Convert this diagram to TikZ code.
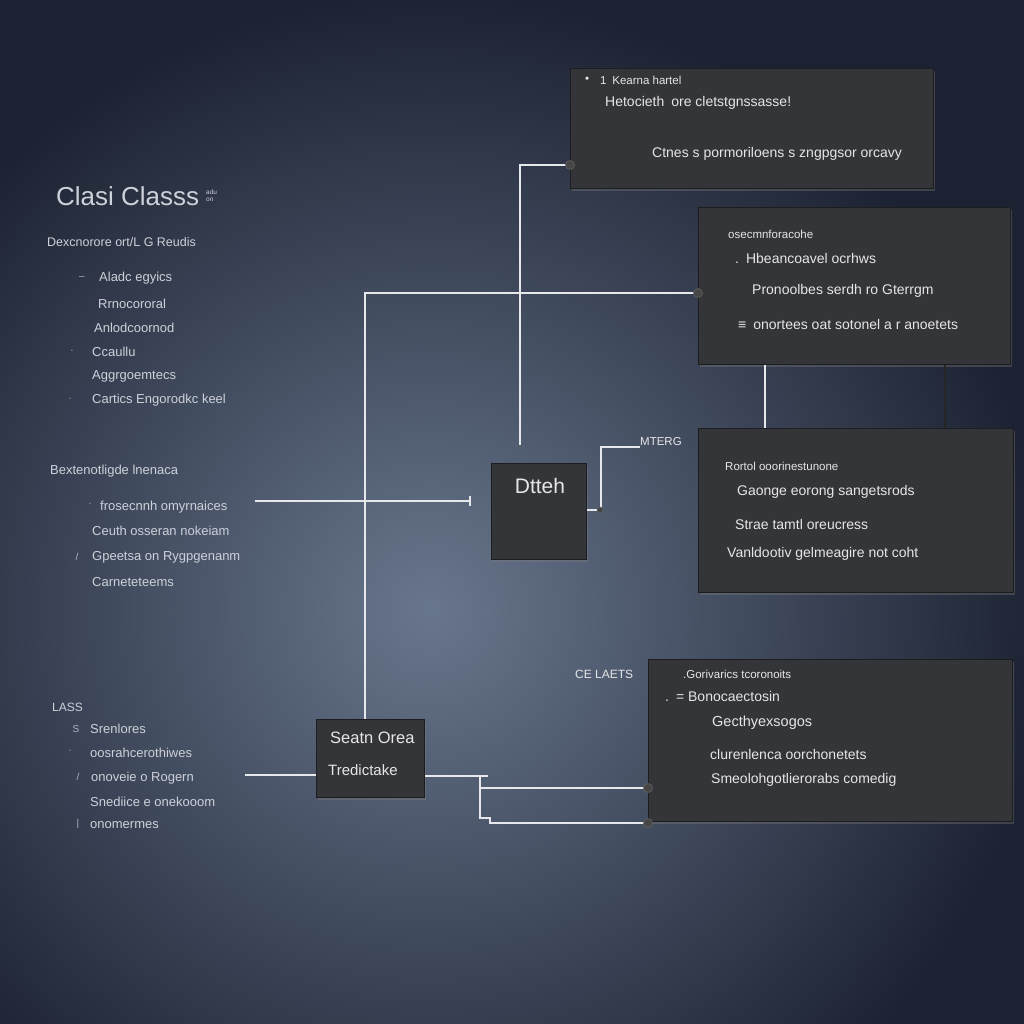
\documentclass[tikz,border=0pt]{standalone}
\usepackage{fontspec}
\setmainfont{Liberation Sans}
\usetikzlibrary{shadows}
\definecolor{bgout}{HTML}{1C2231}
\definecolor{bgin}{HTML}{68768D}
\definecolor{boxc}{HTML}{343538}
\definecolor{txtc}{HTML}{E6E6E6}
\definecolor{ltxt}{HTML}{CDD1D9}
\definecolor{wirec}{HTML}{E6E8EC}
\tikzset{
 panel/.style={fill=boxc, draw=black!45!boxc, line width=0.6pt, anchor=north west, inner sep=0pt,
   drop shadow={opacity=0.35, shadow xshift=2pt, shadow yshift=-3pt}},
 bt/.style={anchor=west, text=txtc, inner sep=0pt, font=\fontsize{14}{16}\selectfont},
 bs/.style={bt, font=\fontsize{11.5}{13}\selectfont},
 lt/.style={anchor=west, text=ltxt, inner sep=0pt, font=\fontsize{13}{15}\selectfont},
 mk/.style={anchor=center, text=ltxt!70!bgin, inner sep=0pt, font=\fontsize{10}{11}\selectfont},
 wire/.style={draw=wirec, line width=1.8pt},
 dwire/.style={draw=black!85, line width=1.8pt},
 knob/.style={circle, fill=gray!55!black, draw=black!60, line width=0.5pt, minimum size=9pt, inner sep=0pt},
}
\begin{document}
\begin{tikzpicture}[x=1pt,y=-1pt]
\useasboundingbox (0,0) rectangle (1024,1024);
\fill[bgout] (0,0) rectangle (1024,1024);
\begin{scope}
\clip (0,0) rectangle (1024,1024);
\shade[inner color=bgin, outer color=bgout] (430,610) circle (620);
\end{scope}

% ---------- panels ----------
\node[panel, minimum width=363pt, minimum height=120pt] (A) at (570,68) {};
\node[panel, minimum width=312pt, minimum height=157pt] (B) at (698,207) {};
\node[panel, minimum width=315pt, minimum height=164pt] (C) at (698,428) {};
\node[panel, minimum width=95pt, minimum height=96pt] (D) at (491,463) {};
\node[panel, minimum width=108pt, minimum height=78pt] (E) at (316,719) {};
\node[panel, minimum width=364pt, minimum height=162pt] (F) at (648,659) {};

% ---------- panel texts ----------
\node[bs] (a0) at (585,80) {•};
\node[bs] (a1) at (600,80) {1\enspace Kearna hartel};
\node[bt] (a2) at (605,103) {Hetocieth\enspace ore cletstgnssasse!};
\node[bt] (a3) at (652,154) {Ctnes s pormoriloens s zngpgsor orcavy};

\node[bs] (b1) at (728,234) {osecmnforacohe};
\node[bt] (b2) at (735,258) {.\enspace Hbeancoavel ocrhws};
\node[bt] (b3) at (752,291) {Pronoolbes serdh ro Gterrgm};
\node[bt] (b4) at (738,324) {≡\enspace onortees oat sotonel a r anoetets};

\node[bs] (c1) at (725,466) {Rortol ooorinestunone};
\node[bt] (c2) at (737,492) {Gaonge eorong sangetsrods};
\node[bt] (c3) at (735,524) {Strae tamtl oreucress};
\node[bt] (c4) at (727,554) {Vanldootiv gelmeagire not coht};

\node[text=txtc, inner sep=0pt, font=\fontsize{21}{24}\selectfont] (dt) at (540,486) {Dtteh};

\node[bt, font=\fontsize{16.5}{18}\selectfont] (e1) at (330,738) {Seatn Orea};
\node[bt, font=\fontsize{15}{17}\selectfont] (e2) at (328,770) {Tredictake};

\node[bs] (f1) at (683,674) {.Gorivarics tcoronoits};
\node[bt] (f2) at (665,696) {.\enspace = Bonocaectosin};
\node[bt, font=\fontsize{14.5}{16}\selectfont] (f3) at (712,723) {Gecthyexsogos};
\node[bt] (f4) at (710,754) {clurenlenca oorchonetets};
\node[bt] (f5) at (711,780) {Smeolohgotlierorabs comedig};

% ---------- free labels ----------
\node[bt, font=\fontsize{11.5}{13}\selectfont] (mt) at (640,442) {MTERG};
\node[bt, font=\fontsize{12}{14}\selectfont] (cl) at (575,674) {CE LAETS};

% ---------- left texts ----------
\node[lt, font=\fontsize{26}{28}\selectfont] (title) at (56,196) {Clasi Classs};
\node[lt, font=\fontsize{6.5}{7}\selectfont, align=left] (tsup) at (206,196) {adu\\on};
\node[lt, font=\fontsize{12.5}{14}\selectfont] (l0) at (47,242) {Dexcnorore ort/L G Reudis};
\node[mk] (m1) at (82,278) {–};
\node[lt] (l1) at (99,278) {Aladc egyics};
\node[lt] (l2) at (98,304) {Rrnocororal};
\node[lt] (l3) at (94,328) {Anlodcoornod};
\node[mk] (m2) at (72,352) {·};
\node[lt] (l4) at (92,352) {Ccaullu};
\node[lt] (l5) at (92,376) {Aggrgoemtecs};
\node[mk] (m3) at (70,400) {·};
\node[lt] (l6) at (92,400) {Cartics Engorodkc keel};

\node[lt] (s0) at (50,471) {Bextenotligde lnenaca};
\node[mk] (m4) at (90,505) {·};
\node[lt] (s1) at (100,507) {frosecnnh omyrnaices};
\node[lt] (s2) at (92,531) {Ceuth osseran nokeiam};
\node[mk] (m5) at (77,557) {/};
\node[lt] (s3) at (92,557) {Gpeetsa on Rygpgenanm};
\node[lt] (s4) at (92,582) {Carneteteems};

\node[lt, font=\fontsize{12}{14}\selectfont] (u0) at (52,707) {LASS};
\node[mk] (m6) at (76,729) {S};
\node[lt] (u1) at (90,729) {Srenlores};
\node[mk] (m7) at (70,752) {·};
\node[lt] (u2) at (90,753) {oosrahcerothiwes};
\node[mk] (m8) at (78,777) {/};
\node[lt] (u3) at (91,778) {onoveie o Rogern};
\node[lt] (u4) at (90,802) {Snediice e onekooom};
\node[mk] (m9) at (78,824) {|};
\node[lt] (u5) at (90,825) {onomermes};

% ---------- connectors ----------
\coordinate (aEnd) at (520,445);
\draw[wire] (A.west |- 0,165) -| (aEnd);
\draw[wire] (B.west |- 0,293) -| (E.north -| 365,0);
\coordinate (hl) at (255,501);
\coordinate (hr) at (470,501);
\draw[wire] (hl) -- (hr);
\draw[wire, line width=1.2pt] (hr) ++(0,-5) -- ++(0,10);
\draw[wire] (D.east |- 0,510) -- ++(14,0) |- (mt.west |- 0,447);
\draw[wire] (B.south -| 765,0) -- (C.north -| 765,0);
\draw[dwire] (B.south -| 945,0) -- (C.north -| 945,0);
\coordinate (eL) at (245,775);
\draw[wire] (E.west |- 0,775) -- (eL);
\coordinate (eR) at (488,776);
\draw[wire] (E.east |- 0,776) -- (eR);
\coordinate (br) at (480,776);
\draw[wire] (br) -- ++(0,42) -- ++(10,0) -- ++(0,5) -- (F.west |- 0,823);
\draw[wire] (br) ++(0,12) -- (F.west |- 0,788);

% ---------- knobs ----------
\node[knob] (k1) at (A.west |- 0,165) {};
\node[knob] (k2) at (B.west |- 0,293) {};
\node[knob, minimum size=6pt] (k3) at (600,510) {};
\node[knob] (k4) at (F.west |- 0,788) {};
\node[knob] (k5) at (F.west |- 0,823) {};
\end{tikzpicture}
\end{document}
